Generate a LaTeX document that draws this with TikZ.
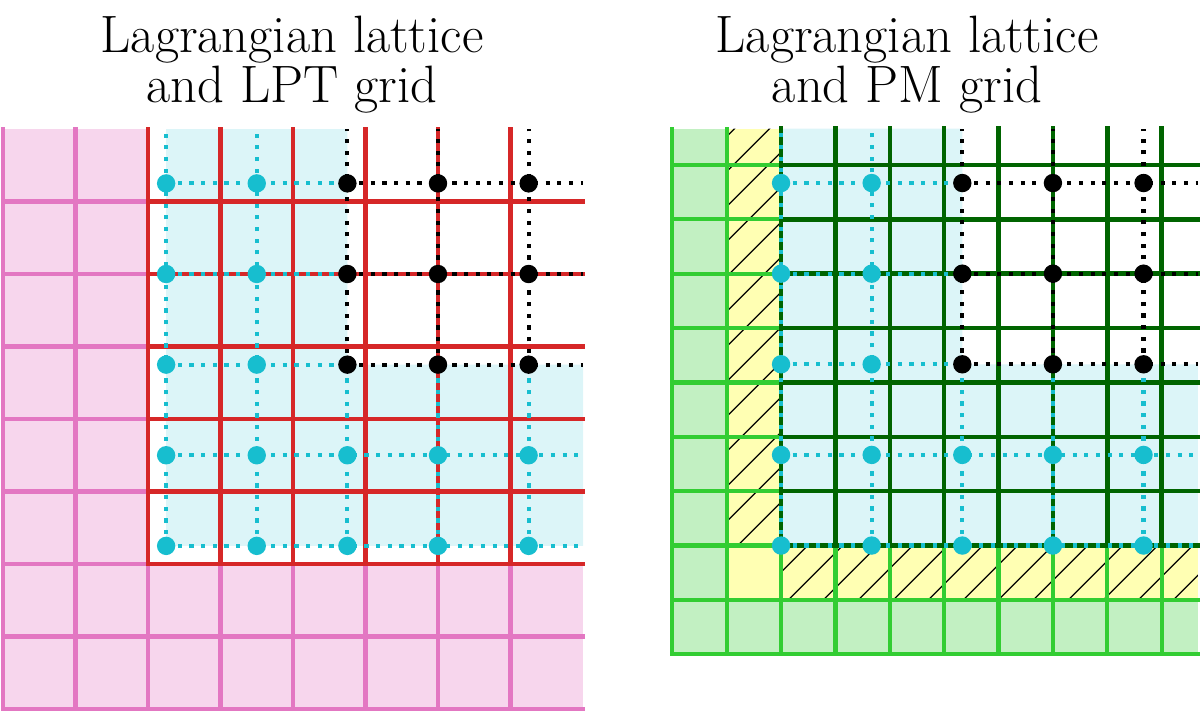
\documentclass[tikz,border=0pt]{standalone}
\definecolor{pinkfill}{RGB}{247,214,237}
\definecolor{pinkline}{RGB}{227,119,194}
\definecolor{redline}{RGB}{214,39,40}
\definecolor{cyanc}{RGB}{23,190,207}
\definecolor{cyanfill}{RGB}{220,245,248}
\definecolor{limeg}{RGB}{50,205,50}
\definecolor{greenfill}{RGB}{194,240,194}
\definecolor{darkg}{RGB}{0,100,0}
\definecolor{yellowfill}{RGB}{255,255,179}
\tikzset{
  titletext/.style={anchor=base, inner sep=0pt, font=\fontsize{26.3}{30}\selectfont},
  pinkgrid/.style={draw=pinkline, line width=2.1pt, line cap=rect},
  redgrid/.style={draw=redline, line width=2.4pt, line cap=rect},
  limegrid/.style={draw=limeg, line width=2.1pt, line cap=rect},
  darkgrid/.style={draw=darkg, line width=2.3pt, line cap=rect},
  cyandot/.style={draw=cyanc, line width=2.1pt, dash pattern=on 2.1pt off 3.73pt},
  blackdot/.style={draw=black, line width=2.1pt, dash pattern=on 2.1pt off 3.73pt},
  hatchline/.style={draw=black, line width=0.6pt},
}
% #1 lattice start, #2 start of black block, #3 panel end
\newcommand\mylattice[3]{%
  \foreach \k in {0,1} {
    \draw[cyandot] (#1,#1+1.25*\k) -- (#3,#1+1.25*\k);
    \draw[cyandot] (#1+1.25*\k,#1) -- (#1+1.25*\k,#3);
  }
  \foreach \k in {2,3,4} {
    \draw[cyandot] (#1,#1+1.25*\k) -- (#2,#1+1.25*\k);
    \draw[blackdot] (#2,#1+1.25*\k) -- (#3,#1+1.25*\k);
    \draw[cyandot] (#1+1.25*\k,#1) -- (#1+1.25*\k,#2);
    \draw[blackdot] (#1+1.25*\k,#2) -- (#1+1.25*\k,#3);
  }
  \foreach \i in {0,...,4} {
    \foreach \j in {0,...,4} {
      \ifnum\i>1 \ifnum\j>1
        \fill[black] (#1+1.25*\i,#1+1.25*\j) circle[radius=4.6pt];
      \else
        \fill[cyanc] (#1+1.25*\i,#1+1.25*\j) circle[radius=4.6pt];
      \fi
      \else
        \fill[cyanc] (#1+1.25*\i,#1+1.25*\j) circle[radius=4.6pt];
      \fi
    }
  }
}
\begin{document}
\begin{tikzpicture}[x=0.5pt,y=-0.5pt]
\useasboundingbox (0,0) rectangle (1200,712);

% titles
\node[titletext] (tl1) at (292,52) {Lagrangian lattice};
\node[titletext] (tl2) at (292,102) {and LPT grid};
\node[titletext] (tr1) at (907,52) {Lagrangian lattice};
\node[titletext] (tr2) at (907,102) {and PM grid};

% ---------------- left panel ----------------
\begin{scope}[shift={(3,709)}, x=36.25pt, y=36.25pt]
  \fill[pinkfill] (0,0) rectangle (8,8);
  \fill[white] (2,2) rectangle (8,8);
  \fill[cyanfill] (2.25,2.25) -- (8,2.25) -- (8,4.75) -- (4.75,4.75)
      -- (4.75,8) -- (2.25,8) -- cycle;
  \foreach \a in {0,1} \draw[pinkgrid] (\a,0) -- (\a,8);
  \foreach \a in {2,...,7} \draw[pinkgrid] (\a,0) -- (\a,2);
  \foreach \b in {0,1} \draw[pinkgrid] (0,\b) -- (8,\b);
  \foreach \b in {2,...,7} \draw[pinkgrid] (0,\b) -- (2,\b);
  \foreach \a in {2,...,7} \draw[redgrid] (\a,2) -- (\a,8);
  \foreach \b in {2,...,7} \draw[redgrid] (2,\b) -- (8,\b);
  \mylattice{2.25}{4.75}{8}
\end{scope}

% ---------------- right panel ----------------
\begin{scope}[shift={(672.3,654.3)}, x=36.25pt, y=36.25pt]
  \fill[greenfill] (0,0) rectangle (7.25,7.25);
  \fill[yellowfill] (0.75,0.75) rectangle (7.25,7.25);
  \begin{scope}
    \clip (0.75,1.5) rectangle (1.5,7.25) (1.5,0.75) rectangle (7.25,1.5);
    \foreach \k in {-17,...,16} \draw[hatchline] (0.368+0.4828*\k,0) -- ++(8,8);
  \end{scope}
  \fill[white] (1.5,1.5) rectangle (7.25,7.25);
  \fill[cyanfill] (1.5,1.5) -- (7.25,1.5) -- (7.25,4) -- (4,4)
      -- (4,7.25) -- (1.5,7.25) -- cycle;
  \foreach \j in {0,1} \draw[limegrid] (0.75*\j,0) -- (0.75*\j,7.25);
  \foreach \j in {2,...,9} \draw[limegrid] (0.75*\j,0) -- (0.75*\j,1.5);
  \foreach \j in {0,1} \draw[limegrid] (0,0.75*\j) -- (7.25,0.75*\j);
  \foreach \j in {2,...,9} \draw[limegrid] (0,0.75*\j) -- (1.5,0.75*\j);
  \foreach \j in {2,...,9} \draw[darkgrid] (0.75*\j,1.5) -- (0.75*\j,7.25);
  \foreach \j in {2,...,9} \draw[darkgrid] (1.5,0.75*\j) -- (7.25,0.75*\j);
  \mylattice{1.5}{4}{7.25}
\end{scope}
\end{tikzpicture}
\end{document}
